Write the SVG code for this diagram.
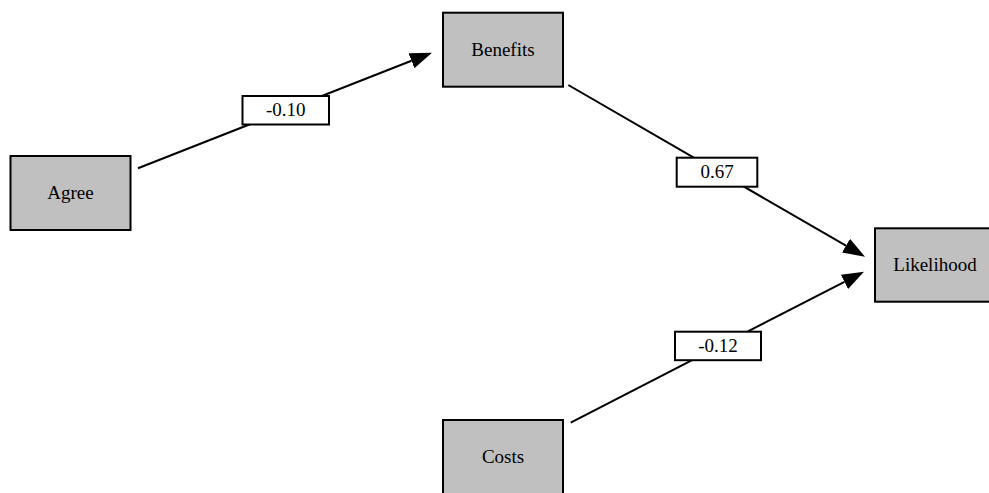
<svg xmlns="http://www.w3.org/2000/svg" width="989" height="493" viewBox="0 0 989 493">
<defs>
<marker id="arr" viewBox="0 0 22 16" refX="0" refY="8" markerWidth="22" markerHeight="16" markerUnits="userSpaceOnUse" orient="auto">
<path d="M0,0 L22,8 L0,16 z" fill="#000"/>
</marker>
<style>
.node rect{fill:#c0c0c0;stroke:#000;stroke-width:2}
.lbl rect{fill:#fff;stroke:#000;stroke-width:2}
text{font-family:"Liberation Serif","Times New Roman",serif;font-size:19px;fill:#000;text-anchor:middle}
.edge{stroke:#000;stroke-width:2;fill:none;marker-end:url(#arr)}
</style>
</defs>
<rect width="989" height="493" fill="#fff"/>
<g id="connectors">
<line class="edge" x1="138" y1="168.3" x2="411.5" y2="60.75"/>
<line class="edge" x1="568.3" y1="85" x2="845.96" y2="245.68"/>
<line class="edge" x1="570.7" y1="422.7" x2="844.44" y2="281.77"/>
<g class="lbl" id="label-agree-benefits">
<rect x="242.5" y="96" width="86.5" height="28.5"/>
<text x="285.75" y="115.8">-0.10</text>
</g>
<g class="lbl" id="label-benefits-likelihood">
<rect x="676.7" y="157.7" width="80.6" height="29"/>
<text x="717" y="177.7">0.67</text>
</g>
<g class="lbl" id="label-costs-likelihood">
<rect x="675" y="331.7" width="86" height="28.5"/>
<text x="718" y="351.5">-0.12</text>
</g>
</g>
<g class="node" id="node-agree">
<rect x="10.5" y="156" width="120" height="74"/>
<text x="70.5" y="199.3">Agree</text>
</g>
<g class="node" id="node-benefits">
<rect x="443" y="12.7" width="120" height="74"/>
<text x="503" y="56">Benefits</text>
</g>
<g class="node" id="node-likelihood">
<rect x="875" y="228.3" width="120" height="73.4"/>
<text x="935" y="271.3">Likelihood</text>
</g>
<g class="node" id="node-costs">
<rect x="443" y="420" width="120" height="74"/>
<text x="503" y="463.3">Costs</text>
</g>
</svg>
